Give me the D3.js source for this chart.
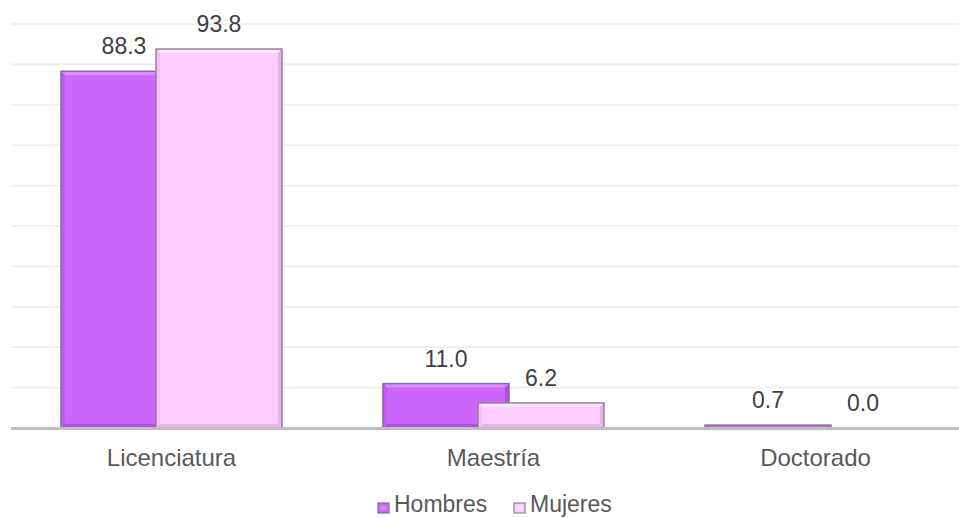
<!DOCTYPE html>
<html>
<head>
<meta charset="utf-8">
<script src="https://cdn.jsdelivr.net/npm/d3@7"></script>
<style>
  html, body { margin: 0; padding: 0; background: #fff; overflow: hidden; }
  svg { display: block; font-family: "Liberation Sans", Arial, sans-serif; }
</style>
</head>
<body>
<svg id="chart" width="959" height="518"></svg>
<script>
const categories = ["Licenciatura", "Maestría", "Doctorado"];
const seriesNames = ["Hombres", "Mujeres"];
const hombres = [88.3, 11.0, 0.7];
const mujeres = [93.8, 6.2, 0.0];
const yTicks = [0, 10, 20, 30, 40, 50, 60, 70, 80, 90, 100];

const colors = {
  Hombres: { fill: "#cc66ff", light: "#dc8cff", dark: "#b050e0", side: "#bf5cf2", stroke: "#85699a" },
  Mujeres: { fill: "#ffccff", light: "#ffe4ff", dark: "#e8b0ea", side: "#f5c0f7", stroke: "#94809a" }
};

const svg = d3.select("#chart");
const W = 959;

const x = d3.scaleBand().domain(categories).range([10.5, 976.5]).paddingInner(0).paddingOuter(0);
const xs = d3.scalePoint().domain(seriesNames).range([-47.5, 47.5]);
const barW = 126;
const y = d3.scaleLinear().domain([0, 100]).range([428, 24]);

// gridlines
svg.append("g").selectAll("line").data(yTicks.filter(t => t > 0)).join("line")
  .attr("x1", 11).attr("x2", W)
  .attr("y1", d => y(d)).attr("y2", d => y(d))
  .attr("stroke", "#ececec").attr("stroke-width", 1.6);

const data = [];
categories.forEach((c, i) => {
  data.push({ cat: c, s: "Hombres", v: hombres[i] });
  data.push({ cat: c, s: "Mujeres", v: mujeres[i] });
});

const gBars = svg.append("g");
data.forEach(d => {
  if (d.v <= 0) return;
  const cx = x(d.cat) + x.bandwidth() / 2 + xs(d.s);
  const x0 = cx - barW / 2, x1 = cx + barW / 2;
  const y0 = y(d.v), y1 = y(0);
  const h = y1 - y0;
  const c = colors[d.s];
  const g = gBars.append("g");
  g.append("rect").attr("x", x0).attr("y", y0).attr("width", barW).attr("height", h).attr("fill", c.fill);
  const b = Math.min(4, h / 2);
  if (h > 3) {
    g.append("polygon").attr("points", [[x0, y0], [x1, y0], [x1 - b, y0 + b], [x0 + b, y0 + b]].join(" ")).attr("fill", c.light);
    g.append("polygon").attr("points", [[x0, y1], [x1, y1], [x1 - b, y1 - b], [x0 + b, y1 - b]].join(" ")).attr("fill", c.dark);
    g.append("polygon").attr("points", [[x0, y0], [x0 + b, y0 + b], [x0 + b, y1 - b], [x0, y1]].join(" ")).attr("fill", c.side);
    g.append("polygon").attr("points", [[x1, y0], [x1 - b, y0 + b], [x1 - b, y1 - b], [x1, y1]].join(" ")).attr("fill", c.dark);
  }
  g.append("rect").attr("x", x0).attr("y", y0).attr("width", barW).attr("height", h)
    .attr("fill", "none").attr("stroke", c.stroke).attr("stroke-width", 1.5);
});

// baseline
svg.append("line").attr("x1", 11).attr("x2", W).attr("y1", y(0) + 0.5).attr("y2", y(0) + 0.5)
  .attr("stroke", "#bfbfbf").attr("stroke-width", 3);

// value labels
svg.append("g").selectAll("text").data(data).join("text")
  .attr("x", d => x(d.cat) + x.bandwidth() / 2 + xs(d.s))
  .attr("y", d => y(d.v) - 17)
  .attr("text-anchor", "middle")
  .attr("font-size", 23)
  .attr("fill", "#404040")
  .text(d => d.v.toFixed(1));

// category axis labels
const xAxis = d3.axisBottom(x).tickSize(0).tickPadding(0);
const gx = svg.append("g").attr("transform", "translate(0,428)").call(xAxis);
gx.select(".domain").remove();
gx.selectAll("text")
  .attr("font-size", 24)
  .attr("font-family", "'Liberation Sans', Arial, sans-serif")
  .attr("fill", "#595959")
  .attr("dy", null)
  .attr("y", 38);

// legend
const legend = svg.append("g");
const legendItems = [
  { s: "Hombres", x: 378 },
  { s: "Mujeres", x: 514 }
];
legendItems.forEach(li => {
  const c = colors[li.s];
  const lg = legend.append("g");
  lg.append("rect").attr("x", li.x).attr("y", 503).attr("width", 11).attr("height", 10)
    .attr("fill", c.fill).attr("stroke", c.stroke).attr("stroke-width", 1.2);
  lg.append("rect").attr("x", li.x + 2.5).attr("y", 505.5).attr("width", 6).attr("height", 5)
    .attr("fill", c.light).attr("opacity", 0.7);
  lg.append("text").attr("x", li.x + 16).attr("y", 512)
    .attr("font-size", 23).attr("fill", "#595959").text(li.s);
});
</script>
</body>
</html>
